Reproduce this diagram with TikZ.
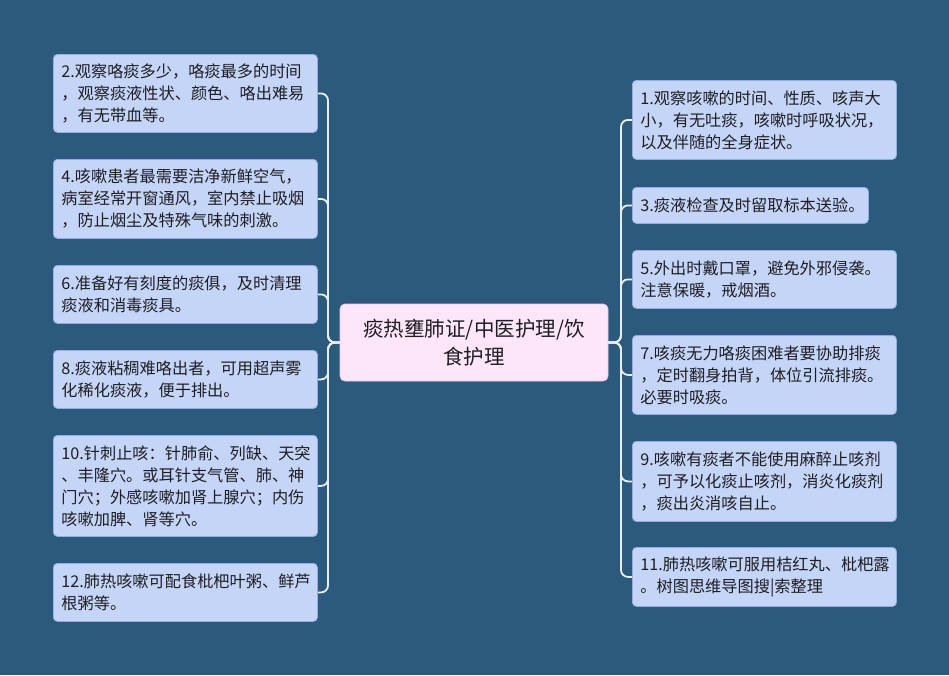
\documentclass[tikz,border=0pt]{standalone}
\usepackage{fontspec}
\setmainfont{Noto Sans CJK SC}
\definecolor{bgc}{RGB}{43,90,124}
\definecolor{boxfill}{RGB}{197,213,248}
\definecolor{boxdraw}{RGB}{150,172,225}
\definecolor{cfill}{RGB}{253,230,250}
\definecolor{cdraw}{RGB}{238,200,232}
\definecolor{linec}{RGB}{232,238,244}
\definecolor{textc}{RGB}{30,30,35}
\begin{document}
\begin{tikzpicture}[x=1pt,y=-1pt,
  box/.style={draw=boxdraw, fill=boxfill, rounded corners=4pt, line width=0.8pt,
    anchor=north west, align=left, inner xsep=8pt, inner ysep=0pt,
    font=\fontsize{16.2}{22}\selectfont, text=textc},
  wbox/.style={box, text width=248pt},
  nbox/.style={box, text width=220pt},
  centre/.style={draw=cdraw, fill=cfill, rounded corners=5pt, line width=0.8pt,
    align=center, inner sep=0pt, minimum width=268pt, minimum height=77pt,
    text width=258pt, font=\fontsize{20.5}{28}\selectfont, text=textc},
  conn/.style={draw=linec, line width=1.8pt, rounded corners=7pt}]
\fill[bgc] (0,0) rectangle (949,675);
\useasboundingbox (0,0) rectangle (949,675);

\coordinate (tl) at (328,0);
\coordinate (tr) at (621,0);

\node[centre] (c) at (474,342.5) {痰热壅肺证/中医护理/饮\\食护理};

\node[wbox, minimum height=78pt] (l1) at (53,54) {2.观察咯痰多少，咯痰最多的时间\\，观察痰液性状、颜色、咯出难易\\，有无带血等。};
\node[wbox, minimum height=79pt] (l2) at (53,159) {4.咳嗽患者最需要洁净新鲜空气，\\病室经常开窗通风，室内禁止吸烟\\，防止烟尘及特殊气味的刺激。};
\node[wbox, minimum height=58pt] (l3) at (53,265) {6.准备好有刻度的痰俱，及时清理\\痰液和消毒痰具。};
\node[wbox, minimum height=58pt] (l4) at (53,350) {8.痰液粘稠难咯出者，可用超声雾\\化稀化痰液，便于排出。};
\node[wbox, minimum height=101pt] (l5) at (53,435) {10.针刺止咳：针肺俞、列缺、天突\\、丰隆穴。或耳针支气管、肺、神\\门穴；外感咳嗽加肾上腺穴；内伤\\咳嗽加脾、肾等穴。};
\node[wbox, minimum height=58pt] (l6) at (53,563) {12.肺热咳嗽可配食枇杷叶粥、鲜芦\\根粥等。};

\node[wbox, minimum height=79pt] (r1) at (632,80) {1.观察咳嗽的时间、性质、咳声大\\小，有无吐痰，咳嗽时呼吸状况，\\以及伴随的全身症状。};
\node[nbox, minimum height=36pt] (r2) at (632,187) {3.痰液检查及时留取标本送验。};
\node[wbox, minimum height=58pt] (r3) at (632,250) {5.外出时戴口罩，避免外邪侵袭。\\注意保暖，戒烟酒。};
\node[wbox, minimum height=79pt] (r4) at (632,335) {7.咳痰无力咯痰困难者要协助排痰\\，定时翻身拍背，体位引流排痰。\\必要时吸痰。};
\node[wbox, minimum height=80pt] (r5) at (632,441) {9.咳嗽有痰者不能使用麻醉止咳剂\\，可予以化痰止咳剂，消炎化痰剂\\，痰出炎消咳自止。};
\node[wbox, minimum height=59pt] (r6) at (632,547) {11.肺热咳嗽可服用桔红丸、枇杷露\\。树图思维导图搜|索整理};

\foreach \n in {l1,l2,l3,l4,l5,l6}
  \draw[conn] (c.west) -- (c.west -| tl) |- (\n.east);
\foreach \n in {r1,r2,r3,r4,r5,r6}
  \draw[conn] (c.east) -- (c.east -| tr) |- (\n.west);
\end{tikzpicture}
\end{document}
